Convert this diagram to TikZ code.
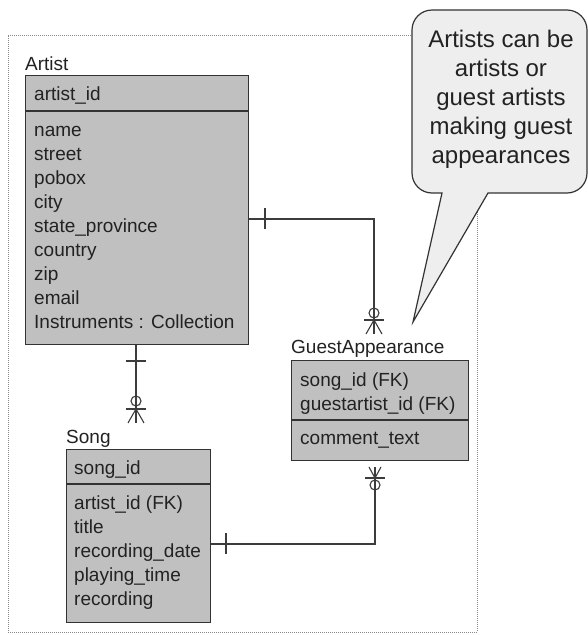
\documentclass[tikz,border=0pt]{standalone}
\usepackage{fontspec}
\setmainfont{Liberation Sans}
\definecolor{boxfill}{HTML}{C0C0C0}
\definecolor{boxline}{HTML}{333333}
\definecolor{ink}{HTML}{222222}
\definecolor{relline}{HTML}{3C3C3C}
\definecolor{framegray}{HTML}{8A8A8A}
\definecolor{notefill}{HTML}{EEEEEE}
\begin{document}
\begin{tikzpicture}[x=1pt,y=1pt,
  entity/.style={draw=boxline, fill=boxfill, line width=1.4pt, anchor=north west, inner sep=0pt},
  divider/.style={draw=boxline, line width=1.4pt},
  attr/.style={anchor=base west, inner sep=0pt, text=ink, font=\fontsize{19}{24}\selectfont},
  rel/.style={draw=relline, line width=1.1pt},
  frame/.style={draw=framegray, line width=1pt, dash pattern=on 1pt off 1pt},
  note/.style={draw=boxline, fill=notefill, line width=1.2pt},
  notetext/.style={align=center, text=ink, inner sep=0pt, font=\fontsize{24}{29}\selectfont}]

\useasboundingbox[fill=white] (0,0) rectangle (588,-635);

% dotted diagram frame
\draw[frame] (8,-35) -- (477,-35) -- (477,-632) -- (8,-632) -- cycle;

% ---------- Artist ----------
\node[attr] (artistlabel) at (25,-70) {Artist};
\node[entity, minimum width=223, minimum height=269] (artist) at (25,-75) {};
\draw[divider] (25,-111) -- (248,-111);
\node[attr] (artistid) at (34,-100) {artist\_id};
\foreach \t [count=\i from 0] in {name,street,pobox,city,state\_province,country,zip,email,Instruments : Collection}
  \node[attr] (artistattr\i) at (34,-136-24*\i) {\t};

% ---------- Song ----------
\node[attr] (songlabel) at (66,-443) {Song};
\node[entity, minimum width=144, minimum height=173] (song) at (66,-449) {};
\draw[divider] (66,-484) -- (210,-484);
\node[attr] (songid) at (74,-474) {song\_id};
\foreach \t [count=\i from 0] in {artist\_id (FK),title,recording\_date,playing\_time,recording}
  \node[attr] (songattr\i) at (74,-509-24*\i) {\t};

% ---------- GuestAppearance ----------
\node[attr] (galabel) at (291,-353) {GuestAppearance};
\node[entity, minimum width=177, minimum height=100] (ga) at (291,-360) {};
\draw[divider] (291,-420) -- (468,-420);
\node[attr] (gakey1) at (300,-386) {song\_id (FK)};
\node[attr] (gakey2) at (300,-410) {guestartist\_id (FK)};
\node[attr] (gaattr) at (300,-444) {comment\_text};

% ---------- Artist -- Song ----------
\coordinate (asend) at (136,-423);
\draw[rel] (artist.south -| asend) -- (asend);
\draw[rel] (126,-361) -- (146,-361);
\draw[rel] (136,-401) circle[radius=5];
\draw[rel] (126,-409) -- (146,-409);
\draw[rel] (128,-423) -- (136,-409) -- (144,-423);

% ---------- Artist -- GuestAppearance ----------
\coordinate (agbend) at (374,-219);
\coordinate (agend) at (374,-334);
\draw[rel] (artist.east |- agbend) -- (agbend) -- (agend);
\draw[rel] (265,-208) -- (265,-229);
\draw[rel] (374,-313) circle[radius=5];
\draw[rel] (364,-320) -- (384,-320);
\draw[rel] (366,-334) -- (374,-320) -- (382,-334);

% ---------- Song -- GuestAppearance ----------
\coordinate (sgbend) at (375,-544);
\coordinate (sgend) at (375,-467);
\draw[rel] (song.east |- sgbend) -- (sgbend) -- (sgend);
\draw[rel] (226,-533) -- (226,-554);
\draw[rel] (375,-485) circle[radius=5];
\draw[rel] (365,-478) -- (385,-478);
\draw[rel] (369,-467) -- (375,-478) -- (381,-467);

% ---------- note callout ----------
\draw[note] (442,-193) -- (432,-193)
  arc[start angle=270, end angle=180, radius=20] -- (412,-30)
  arc[start angle=180, end angle=90, radius=20] -- (567,-10)
  arc[start angle=90, end angle=0, radius=20] -- (587,-173)
  arc[start angle=0, end angle=-90, radius=20] -- (488,-193)
  -- (413,-322) -- cycle;
% base anchor of a multi-line node sits on its last line
\node[notetext, anchor=base] (notetext) at (501,-163)
  {Artists can be\\artists or\\guest artists\\making guest\\appearances};

\end{tikzpicture}
\end{document}
